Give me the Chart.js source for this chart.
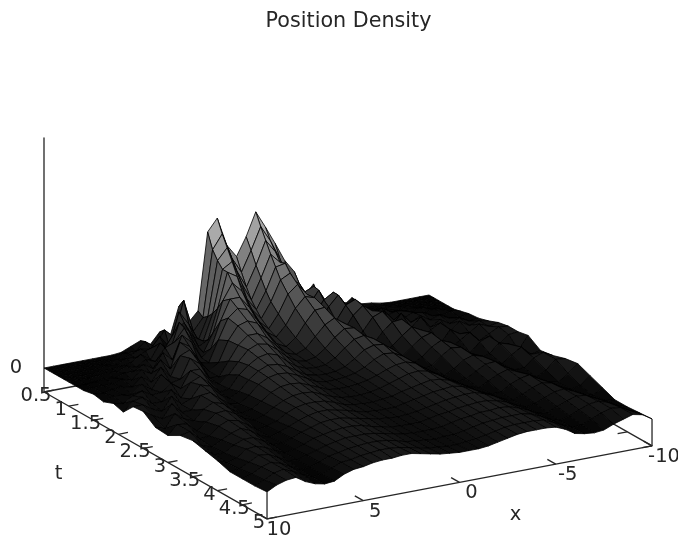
<!DOCTYPE html>
<html>
<head>
<meta charset="utf-8">
<title>Position Density</title>
<script src="https://cdn.jsdelivr.net/npm/chart.js@4"></script>
<style>
  html, body { margin: 0; padding: 0; background: #fff; }
  canvas { display: block; }
</style>
</head>
<body>
<canvas id="myChart" width="678" height="537"></canvas>
<script>
// x runs from the near corner (10) to the far corner (-10)
const xValues = [10, 9.5, 9, 8.5, 8, 7.5, 7, 6.5, 6, 5.5, 5, 4.5, 4, 3.5, 3, 2.5, 2, 1.5, 1, 0.5, 0,
    -0.5, -1, -1.5, -2, -2.5, -3, -3.5, -4, -4.5, -5, -5.5, -6, -6.5, -7, -7.5, -8, -8.5, -9, -9.5, -10];
const tValues = [0.5, 0.6, 0.7, 0.8, 0.9, 1, 1.15, 1.3, 1.5, 1.7, 1.9, 2.1, 2.3, 2.5, 2.75, 3, 3.25, 3.5, 3.75, 4, 4.25, 4.5, 4.75, 5];

// density, one row per t value, one column per x value
const density = [
    [0,0,0,0,0, 0,0,0,1,5, 9,3,14,5,36, 18,28,105,117,88, 75,93,116,99,81, 62,49,22,33,10, 20,5,12,4,3, 1,0,0,0,0, 0],
    [0,0,0,0,0, 0,0,2,3,3, 11,4,19,10,45, 12,24,90,104,78, 62,82,104,88,68, 46,40,24,14,20, 9,9,5,3,2, 1,0,0,0,0, 0],
    [0,0,0,0,0, 0,2,1,4,8, 6,17,5,38,24, 6,28,82,93,68, 50,70,93,80,55, 32,34,38,8,14, 17,8,7,5,2, 3,1,0,0,0, 0],
    [0,0,0,0,0, 2,1,5,4,9, 12,8,22,30,14, 8,34,76,82,58, 40,60,82,72,48, 24,24,37,20,7, 18,8,8,6,5, 2,3,1,0,0, 0],
    [0,0,0,0,1, 1,2,4,10,3, 18,7,35,24,7, 12,42,76,70,46, 33,50,72,74,46, 18,16,30,36,12, 10,17,4,11,5, 5,2,4,1,0, 0],
    [0,0,0,1,2, 1,5,2,8,4, 16,20,32,15,4, 22,52,68,58,38, 27,42,62,67,45, 14,12,26,36,22, 3,15,9,6,9, 7,3,2,4,1, 0],
    [0,0,1,2,1, 4,4,9,3,17, 8,31,22,5,12, 38,58,58,46,30, 21,34,52,60,48, 20,6,16,30,34, 12,5,17,6,6, 10,8,3,2,4, 2],
    [0,1,1,1,4, 1,10,4,16,5, 30,24,6,4,25, 45,53,50,38,24, 17,27,42,52,49, 26,5,10,24,32, 25,6,6,17,6, 11,5,8,3,2, 4],
    [2,1,3,4,2, 10,3,16,5,24, 28,15,3,10,30, 43,46,42,30,18, 13,20,33,44,45, 28,9,4,14,26, 30,15,4,8,17, 5,11,5,9,4, 5],
    [0,4,3,2,10, 3,16,6,8,27, 20,4,3,17,31, 39,39,33,23,14, 11,15,25,35,40, 33,17,4,6,17, 25,26,12,3,10, 15,4,13,7,10, 8],
    [4,2,8,11,5, 6,13,6,22,22, 9,3,11,22,32, 36,34,27,18,12, 10,12,19,28,35, 34,23,9,2,9, 17,24,19,7,2, 14,8,7,14,10, 12],
    [1,10,12,4,4, 14,4,18,22,13, 3,4,16,24,30, 32,29,21,14,10, 9,10,15,23,30, 32,27,15,4,4, 12,19,22,11,3, 9,15,5,10,15, 14],
    [12,12,6,2,15, 5,9,21,18,8, 2,7,17,24,28, 27,23,17,11,9, 8,9,12,18,25, 28,27,20,9,2, 7,15,20,16,6, 2,11,15,5,13, 14],
    [13,7,2,15,5, 5,18,19,11,4, 2,9,18,23,25, 24,20,15,10,8, 8,9,11,15,21, 25,24,19,10,2, 4,12,18,17,9, 2,5,14,11,3, 16],
    [4,1,14,7,3, 13,18,15,7,2, 4,10,17,21,22, 21,17,13,9,8, 8,9,11,14,18, 21,22,19,12,5, 1,6,13,16,13, 5,2,9,15,6, 8],
    [3,12,11,2,9, 16,17,12,5,2, 5,11,16,19,20, 19,15,11,8,7, 7,8,10,13,16, 19,20,18,13,7, 2,3,9,14,15, 8,3,3,11,15, 10],
    [10,12,3,4,12, 16,14,8,1,3, 6,12,16,18,18, 17,14,10,8,7, 7,8,9,12,14, 16,18,17,14,9, 4,1,6,11,14, 10,4,1,6,15, 14],
    [12,5,2,7,12, 15,11,4,1,4, 8,12,15,17,17, 15,13,10,8,7, 7,7,9,11,13, 15,16,17,15,11, 6,2,2,8,12, 14,8,3,1,8, 16],
    [9,3,3,9,13, 13,8,2,2,5, 9,12,15,16,16, 14,12,10,8,7, 6,7,8,10,12, 14,15,16,16,13, 9,4,1,5,10, 13,11,5,1,3, 11],
    [6,2,5,12,13, 10,5,1,3,6, 10,12,14,15,15, 14,11,9,7,6, 6,6,8,10,11, 13,14,15,15,13, 10,5,1,3,7, 11,12,8,3,0, 6],
    [2,3,8,13,12, 7,2,1,4,7, 10,12,14,14,14, 13,11,9,7,6, 6,6,7,9,11, 12,14,14,15,14, 11,7,2,1,5, 9,12,11,6,2, 1],
    [2,5,10,13,10, 5,0,1,4,8, 10,12,13,14,14, 13,11,8,7,6, 5,6,6,8,10, 12,13,14,14,14, 12,8,3,0,3, 7,11,12,9,4, 1],
    [2,6,11,13,9, 4,0,1,5,9, 10,12,13,14,14, 13,11,9,7,6, 5,5,6,7,9, 11,13,14,14,14, 13,9,4,0,1, 5,9,12,11,6, 2],
    [3,8,11,12,6, 2,0,1,6,9, 10,12,13,13,14, 14,12,10,8,7, 6,6,6,7,9, 11,13,14,14,14, 13,9,3,1,0, 1,5,8,11,9, 3]
];

const xTicks = [10, 5, 0, -5, -10];
const tTicks = [0.5, 1, 1.5, 2, 2.5, 3, 3.5, 4, 4.5, 5];
const zTicks = [0];

const FLOOR = -24;    // height of the box floor
const Z_TOP = 230;    // top of the z axis
const AXIS_COLOR = '#262626';

// Orthographic view: turns (x, t, z) into the chart's flat coordinates
function project(x, t, z) {
    return {
        x: 44 + (10 - x) * 19.25 + (t - 0.5) * 49.56,
        y: 368 - (10 - x) * 3.65 + (t - 0.5) * 28.2 - z
    };
}

// Cell colour: gray level follows height, squeezed cells go darker because
// their mesh lines crowd together
function cellColor(pts, dx, dt, z) {
    const d1 = { x: pts[2].x - pts[0].x, y: pts[2].y - pts[0].y };
    const d2 = { x: pts[3].x - pts[1].x, y: pts[3].y - pts[1].y };
    const area = Math.abs(d1.x * d2.y - d1.y * d2.x) / 2;
    const flatArea = 1468 * dx * dt / 8;
    const squeeze = Math.max(0.25, Math.min(1, area / flatArea));
    const g = Math.min(200, Math.round(4 + 1.6 * z * squeeze));
    return `rgb(${g}, ${g}, ${g})`;
}

function axisLine(points) {
    return {
        data: points.map(p => project(p[0], p[1], p[2])),
        showLine: true,
        fill: false,
        borderColor: AXIS_COLOR,
        borderWidth: 1.3,
        pointRadius: 0
    };
}

// Chart.js paints the first dataset last, so everything goes in front to back
const datasets = [];

// vertical edges at the two front corners
const lastRow = density[density.length - 1];
datasets.push(axisLine([[10, 5, FLOOR], [10, 5, lastRow[0]]]));
datasets.push(axisLine([[-10, 5, FLOOR], [-10, 5, lastRow[lastRow.length - 1]]]));

// surface cells, nearest corner first
for (let i = tValues.length - 2; i >= 0; i--) {
    for (let j = 0; j < xValues.length - 1; j++) {
        const corners = [[i, j], [i, j + 1], [i + 1, j + 1], [i + 1, j], [i, j]];
        const points = corners.map(c => project(xValues[c[1]], tValues[c[0]], density[c[0]][c[1]]));
        const mean = (density[i][j] + density[i][j + 1] + density[i + 1][j + 1] + density[i + 1][j]) / 4;
        datasets.push({
            data: points,
            showLine: true,
            fill: 'shape',
            backgroundColor: cellColor(points, xValues[j] - xValues[j + 1], tValues[i + 1] - tValues[i], mean),
            borderColor: '#000',
            borderWidth: 0.8,
            pointRadius: 0
        });
    }
}

// box floor and its tick marks
datasets.push(axisLine([[10, 0.5, FLOOR], [10, 5, FLOOR], [-10, 5, FLOOR], [-10, 0.5, FLOOR], [10, 0.5, FLOOR]]));
datasets.push(axisLine([[10, 0.5, Z_TOP], [10, 0.5, FLOOR]]));
xTicks.forEach(x => datasets.push(axisLine([[x, 5, FLOOR], [x, 4.83, FLOOR]])));
tTicks.forEach(t => {
    datasets.push(axisLine([[10, t, FLOOR], [9.5, t, FLOOR]]));
    datasets.push(axisLine([[-10, t, FLOOR], [-9.5, t, FLOOR]]));
});

// tick labels and axis names sit next to the projected axis points
const axisText = {
    id: 'axisText',
    afterDatasetsDraw(chart) {
        const { ctx, scales } = chart;
        function put(text, p, dx, dy) {
            ctx.fillText(text, scales.x.getPixelForValue(p.x) + dx, scales.y.getPixelForValue(p.y) + dy);
        }
        ctx.save();
        ctx.font = '19.5px "DejaVu Sans"';
        ctx.fillStyle = AXIS_COLOR;
        ctx.textAlign = 'center';
        ctx.textBaseline = 'middle';
        xTicks.forEach(x => put(String(x), project(x, 5, FLOOR), 12, 11));
        tTicks.forEach(t => put(String(t), project(10, t, FLOOR), -8, 4));
        zTicks.forEach(z => put(String(z), project(10, 0.5, z), -28, 0));
        put('x', project(0, 5, FLOOR), 56, 33);
        put('t', project(10, 2.75, FLOOR), -97, 18);
        ctx.restore();
    }
};

new Chart(document.getElementById('myChart').getContext('2d'), {
    type: 'scatter',
    data: { datasets: datasets },
    plugins: [axisText],
    options: {
        responsive: false,
        animation: false,
        events: [],
        layout: { padding: { left: 19, right: 0, top: 0, bottom: 0 } },
        scales: {
            x: { type: 'linear', display: false, min: 19, max: 678 },
            y: { type: 'linear', display: false, reverse: true, min: 40, max: 537 }
        },
        elements: { line: { tension: 0, borderJoinStyle: 'round' } },
        plugins: {
            legend: { display: false },
            tooltip: { enabled: false },
            title: {
                display: true,
                text: 'Position Density',
                color: AXIS_COLOR,
                font: { family: '"DejaVu Sans"', size: 20.7, weight: 'normal', lineHeight: 1.2 },
                padding: { top: 9, bottom: 6.16 }
            }
        }
    }
});
</script>
</body>
</html>
